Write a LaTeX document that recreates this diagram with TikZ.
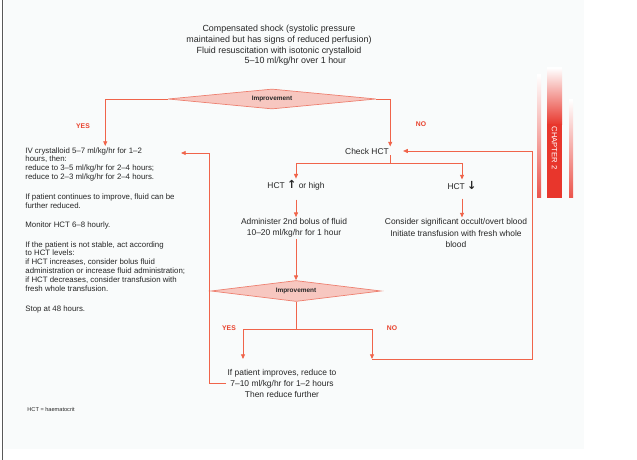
\documentclass[tikz,border=0pt]{standalone}
\usepackage{fontspec}
\setmainfont{Liberation Sans}
\newfontfamily\symfont{DejaVu Sans}
\usetikzlibrary{shapes.geometric,arrows.meta}
\definecolor{flow}{HTML}{F0644A}
\definecolor{answerred}{HTML}{E8412C}
\definecolor{decfill}{HTML}{F7C7C0}
\definecolor{decline}{HTML}{EE8070}
\definecolor{tabred}{HTML}{E8362C}
\definecolor{pagebg}{HTML}{F9FBFB}
\begin{document}
\begin{tikzpicture}[x=0.03cm,y=-0.03cm,>={Triangle[length=4pt,width=3.4pt]},
        every node/.style={inner sep=1pt},
        link/.style={flow,line width=0.7pt},
        info/.style={font=\fontsize{7.2}{9.4}\selectfont,text=black!85,align=center},
        answer/.style={font=\fontsize{5.8}{6}\selectfont\bfseries,text=answerred},
        decision/.style={diamond,draw=decline,fill=decfill,line width=0.6pt,inner sep=0pt,aspect=8,
                font=\fontsize{5.5}{6}\selectfont\bfseries,text=black!85}]
        \useasboundingbox (0,0) rectangle (637,460);
        \fill[pagebg] (4,0) rectangle (584,449);
        \draw[black!65,line width=1.6pt] (2.5,0) -- (2.5,460);
        % chapter tab
        \shade[top color=white,bottom color=tabred] (547,68) rectangle (562,125);
        \fill[tabred] (547,124.5) rectangle (562,198);
        \shade[top color=white,bottom color=tabred!85] (537,75) rectangle (541,198);
        \shade[top color=white,bottom color=tabred!85] (569,100) rectangle (573,198);
        \node[rotate=-90,text=white,font=\fontsize{6.5}{7}\selectfont] (chapter) at (554.5,148) {CHAPTER 2};

        \node[info,font=\fontsize{7.6}{9}\selectfont] (shock) at (279,45.5) {Compensated shock (systolic pressure\\maintained but has signs of reduced perfusion)\\Fluid resuscitation with isotonic crystalloid\\\hspace*{28pt}5--10 ml/kg/hr over 1 hour};
        \node[decision,minimum width=6.24cm,minimum height=0.6cm] (dec1) at (272,99) {Improvement};
        \node[info] (check) at (367,151) {Check HCT};
        \node[info,align=left,anchor=north west,font=\fontsize{6.7}{7.6}\selectfont] (iv) at (24,146) {IV crystalloid 5--7 ml/kg/hr for 1--2\\
                hours, then:\\
                reduce to 3--5 ml/kg/hr for 2--4 hours;\\
                reduce to 2--3 ml/kg/hr for 2--4 hours.\\[9pt]
                If patient continues to improve, fluid can be\\
                further reduced.\\[9pt]
                Monitor HCT 6--8 hourly.\\[9pt]
                If the patient is not stable, act according\\
                to HCT levels:\\
                if HCT increases, consider bolus fluid\\
                administration or increase fluid administration;\\
                if HCT decreases, consider transfusion with\\
                fresh whole transfusion.\\[9pt]
                Stop at 48 hours.};
        \node[info] (hctup) at (296,185) {HCT {\symfont\bfseries\fontsize{9.5}{9}\selectfont ↑} or high};
        \node[info] (hctdown) at (462,185) {HCT {\symfont\bfseries\fontsize{9.5}{9}\selectfont ↓}};
        \node[info] (bolus) at (294,228) {Administer 2nd bolus of fluid\\10--20 ml/kg/hr for 1 hour};
        \node[info] (occult) at (456,233) {Consider significant occult/overt blood\\Initiate transfusion with fresh whole\\blood};
        \node[decision,minimum width=5.1cm,minimum height=0.63cm] (dec2) at (296,291) {Improvement};
        \node[info] (improve) at (282,383) {If patient improves, reduce to\\7--10 ml/kg/hr for 1--2 hours\\Then reduce further};
        \node[anchor=west,font=\fontsize{4.8}{5}\selectfont,text=black!85] (abbrev) at (26,409) {HCT = haematocrit};

        \node[answer] (yes1) at (83,126) {YES};
        \node[answer] (no1) at (421,124) {NO};
        \node[answer] (yes2) at (229,328) {YES};
        \node[answer] (no2) at (392,328) {NO};

        \coordinate (split1) at (check.south east |- 0,163);
        \coordinate (split2) at (296,329);
        \coordinate (yesend) at (243,359);
        \coordinate (noend) at (372,359);
        \coordinate (loopR) at (532,359);
        \coordinate (loopL) at (209,153);
        \coordinate (ivend) at (181,153);

        \draw[link,->] (dec1.west) -| (iv.north);
        \draw[link,->] (dec1.east) -| (check.north east);
        \draw[link] (check.south east) -- (split1);
        \draw[link,->] (split1) -| (hctup);
        \draw[link,->] (split1) -| (hctdown);
        \draw[link,->,shorten <=7pt] (hctup) -- (hctup |- bolus.north);
        \draw[link,->,shorten <=7pt] (hctdown) -- (hctdown |- occult.north);
        \draw[link,->] (hctup |- bolus.south) -- (hctup |- dec2.north);
        \draw[link] (dec2) -- (split2);
        \draw[link,->] (split2) -| (yesend);
        \draw[link,->] (split2) -| (noend);
        \draw[link,->,shorten >=11pt] (noend) -- (loopR) |- (check);
        \draw[link,->] (improve.west) -| (loopL) -- (ivend);
\end{tikzpicture}
\end{document}
